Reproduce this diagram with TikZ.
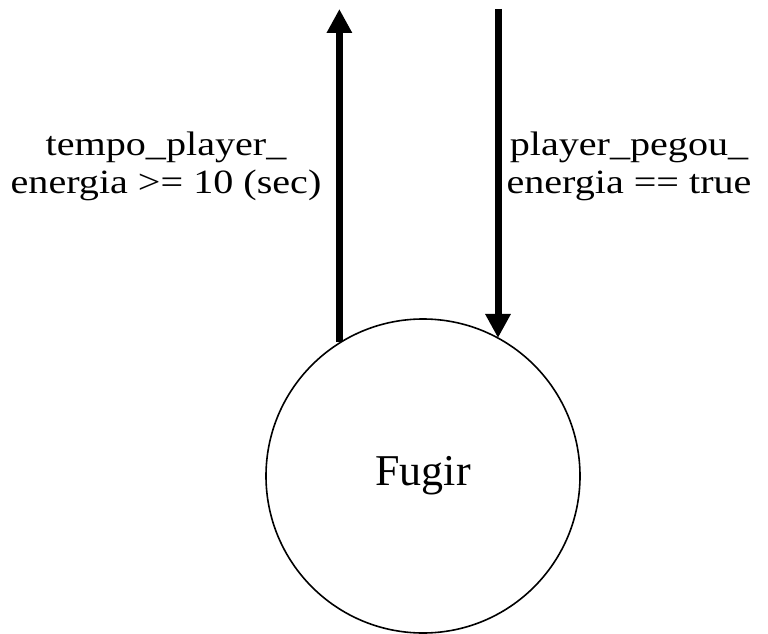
\documentclass[tikz,border=0pt]{standalone}
\usepackage{fontspec}
\setmainfont{Liberation Serif}
\newfontfamily\widefont[FakeStretch=1.18]{Liberation Serif}
\usetikzlibrary{arrows.meta}

\begin{document}
\begin{tikzpicture}[
  x=1pt, y=-1pt,
  >={Triangle[width=24pt,length=24pt]},
  state/.style={draw, circle, line width=1.6pt, minimum size=314pt, font=\fontsize{44}{48}\selectfont},
  trans/.style={->, line width=7pt},
  lbl/.style={align=center, font=\widefont\fontsize{34}{38}\selectfont},
]
\useasboundingbox (0,0) rectangle (768,634);
% the state
\node[state] (fugir) at (423,476) {Fugir};
% free ends at the top
\coordinate (outtop) at (340,9);
\coordinate (intop) at (498,9);
% leaving and entering transitions
\draw[trans] (fugir.122) -- (fugir.122 |- outtop);
\draw[trans] (intop) -- (intop |- fugir.61.5);
\node[lbl] (outlbl) at (166,166) {tempo\_player\_\\energia >= 10 (sec)};
\node[lbl] (inlbl) at (629,166) {player\_pegou\_\\energia == true};
\end{tikzpicture}
\end{document}
